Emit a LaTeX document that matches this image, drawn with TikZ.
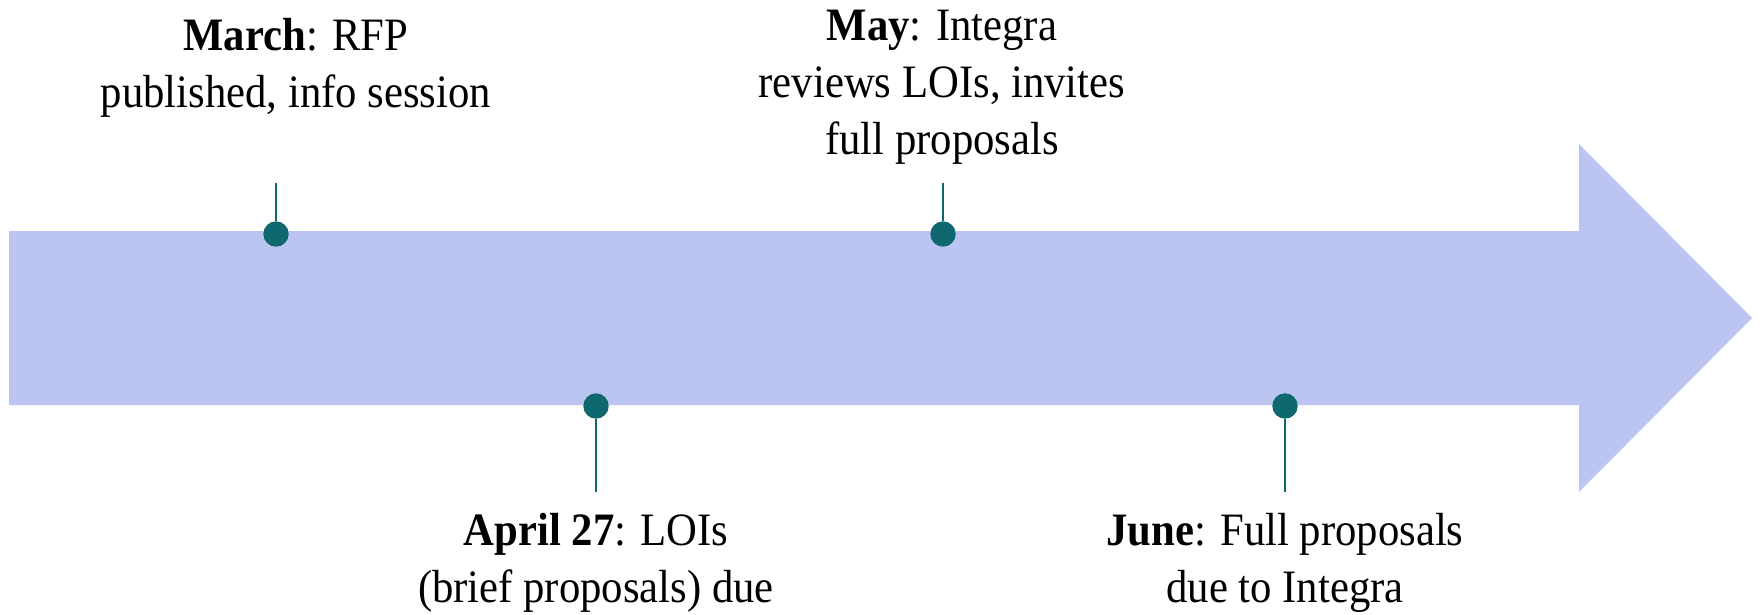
\documentclass[tikz,border=0pt]{standalone}
\usepackage{fontspec}
\setmainfont[FakeStretch=0.92]{Liberation Serif}
\definecolor{arrowfill}{RGB}{188,197,241}
\definecolor{dotteal}{RGB}{16,104,111}

\begin{document}
\begin{tikzpicture}[x=0.01cm,y=-0.01cm,
    milestone/.style={circle,fill=dotteal,inner sep=0pt,minimum size=0.254cm},
    stem/.style={draw=dotteal,line width=0.7pt},
    note/.style={align=center,anchor=base,inner sep=0pt,font=\fontsize{13.2}{16.2}\selectfont}]
    \useasboundingbox (0,0) rectangle (1760,615);

    % the big arrow
    \fill[arrowfill] (9,231) -- (1579,231) -- (1579,144) -- (1752,318)
        -- (1579,492) -- (1579,405) -- (9,405) -- cycle;

    % milestones on top edge
    \node[milestone] (march) at (276,234) {};
    \node[milestone] (may) at (943,234) {};
    \coordinate (marchtop) at (276,183);
    \coordinate (maytop) at (943,183);
    \draw[stem] (marchtop) -- (march);
    \draw[stem] (maytop) -- (may);

    % milestones on bottom edge
    \node[milestone] (april) at (596,406) {};
    \node[milestone] (june) at (1285,406) {};
    \coordinate (aprilend) at (596,492);
    \coordinate (juneend) at (1285,492);
    \draw[stem] (april) -- (aprilend);
    \draw[stem] (june) -- (juneend);

    % labels (base = last line)
    \node[note] (marchtxt) at (296,107) {\textbf{March}: RFP\\published, info session};
    \node[note] (maytxt) at (942,154) {\textbf{May}: Integra\\reviews LOIs, invites\\full proposals};
    \node[note] (apriltxt) at (596,602) {\textbf{April 27}: LOIs\\(brief proposals) due};
    \node[note] (junetxt) at (1285,602) {\textbf{June}: Full proposals\\due to Integra};
\end{tikzpicture}
\end{document}
